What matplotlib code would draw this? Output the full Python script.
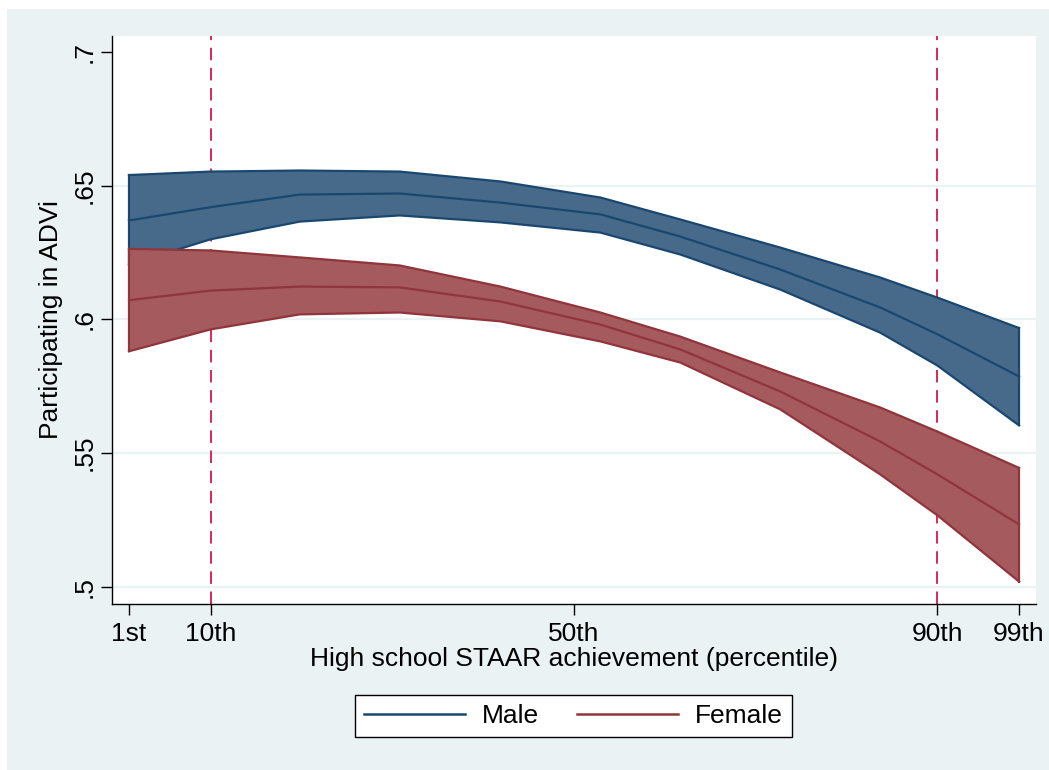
import matplotlib
matplotlib.use("Agg")
import matplotlib.pyplot as plt
from matplotlib.patches import Rectangle
from matplotlib.lines import Line2D

plt.rcParams["font.family"] = ["Liberation Sans", "DejaVu Sans"]
plt.rcParams["lines.scale_dashes"] = False

# percentiles
pct = [1, 10, 19.8, 30.8, 41.9, 52.9, 61.7, 72.7, 83.7, 90, 99]

male_fit = [.637, .642, .6467, .6471, .6437, .6393, .631, .6187, .6045, .5945, .5787]
male_hi = [.654, .6553, .6557, .6553, .6516, .6456, .6374, .6269, .6157, .6082, .5968]
male_lo = [.6205, .630, .6366, .6389, .6363, .6325, .6243, .6112, .5951, .5828, .5604]

fem_fit = [.6072, .6108, .6123, .612, .6067, .5981, .5888, .5731, .5544, .5421, .5234]
fem_hi = [.6264, .6258, .6232, .6202, .6123, .6026, .5936, .5802, .5671, .5581, .5445]
fem_lo = [.5881, .5963, .6019, .6026, .5993, .5918, .5839, .5664, .5421, .5268, .502]

xticks = [1, 10, 50, 90, 99]
xticklabels = ["1st", "10th", "50th", "90th", "99th"]
yticks = [.5, .55, .6, .65, .7]
yticklabels = [".5", ".55", ".6", ".65", ".7"]
cutoffs = [10, 90]

NAVY, NAVY_FILL = "#1a476f", "#486a8a"
MAROON, MAROON_FILL = "#90353b", "#a55a5e"
BG = "#eaf2f3"
FS = 19

W, H = 1049, 770
fig = plt.figure(figsize=(W / 100, H / 100), dpi=100, facecolor="white")
# stata-ish graph region (behind everything)
fig.patches.append(Rectangle((7 / W, 0), 1 - 7 / W, 1 - 9 / H, transform=fig.transFigure,
                             facecolor=BG, edgecolor="none", zorder=-10))

ax = fig.add_axes([112 / W, 1 - 604 / H, 924 / W, 568 / H])
ax.set_facecolor("white")
ax.set_xlim(-0.87, 100.87)
ax.set_ylim(0.4936, 0.706)

for y in yticks[:-1]:
    ax.axhline(y, color=BG, lw=1.6, zorder=1)

for c in cutoffs:
    ax.axvline(c, color="#d8174c", lw=1.3, dashes=(9, 5.5), zorder=2)

# male band + fit
ax.fill_between(pct, male_lo, male_hi, facecolor=NAVY_FILL, edgecolor="none", zorder=3)
ax.plot(pct, male_hi, color=NAVY, lw=1.6, zorder=4)
ax.plot(pct, male_lo, color=NAVY, lw=1.6, zorder=4)
ax.plot([pct[0], pct[0]], [male_lo[0], male_hi[0]], color=NAVY, lw=1.6, zorder=4)
ax.plot([pct[-1], pct[-1]], [male_lo[-1], male_hi[-1]], color=NAVY, lw=1.6, zorder=4)
ax.plot(pct, male_fit, color=NAVY, lw=1.6, zorder=4)

# female band + fit
ax.fill_between(pct, fem_lo, fem_hi, facecolor=MAROON_FILL, edgecolor="none", zorder=5)
ax.plot(pct, fem_hi, color=MAROON, lw=1.6, zorder=6)
ax.plot(pct, fem_lo, color=MAROON, lw=1.6, zorder=6)
ax.plot([pct[0], pct[0]], [fem_lo[0], fem_hi[0]], color=MAROON, lw=1.6, zorder=6)
ax.plot([pct[-1], pct[-1]], [fem_lo[-1], fem_hi[-1]], color=MAROON, lw=1.6, zorder=6)
ax.plot(pct, fem_fit, color=MAROON, lw=1.6, zorder=6)

for s in ["top", "right"]:
    ax.spines[s].set_visible(False)
for s in ["left", "bottom"]:
    ax.spines[s].set_linewidth(1.0)
    ax.spines[s].set_color("black")

ax.set_xticks(xticks)
ax.set_xticklabels(xticklabels, fontsize=FS)
ax.set_yticks(yticks)
ax.set_yticklabels(yticklabels, fontsize=FS, rotation=90, va="center")
ax.tick_params(axis="x", direction="out", length=8, width=1.0, pad=5)
ax.tick_params(axis="y", direction="out", length=8, width=1.0, pad=3)

ax.set_xlabel("High school STAAR achievement (percentile)", fontsize=FS, labelpad=1)
ax.set_ylabel("Participating in ADVi", fontsize=FS, labelpad=7)

handles = [Line2D([], [], color=NAVY, lw=1.8), Line2D([], [], color=MAROON, lw=1.8)]
leg = fig.legend(handles, ["Male", "Female"], loc="center", ncol=2,
                 bbox_to_anchor=(573.5 / W, 1 - 716 / H), fontsize=FS,
                 handlelength=3.8, handletextpad=0.65, columnspacing=1.45,
                 frameon=True, fancybox=False, framealpha=1, borderpad=0.35)
leg.get_frame().set_edgecolor("black")
leg.get_frame().set_linewidth(1.0)
leg.get_frame().set_facecolor("white")

fig.savefig("out.png", dpi=100, facecolor=fig.get_facecolor())
